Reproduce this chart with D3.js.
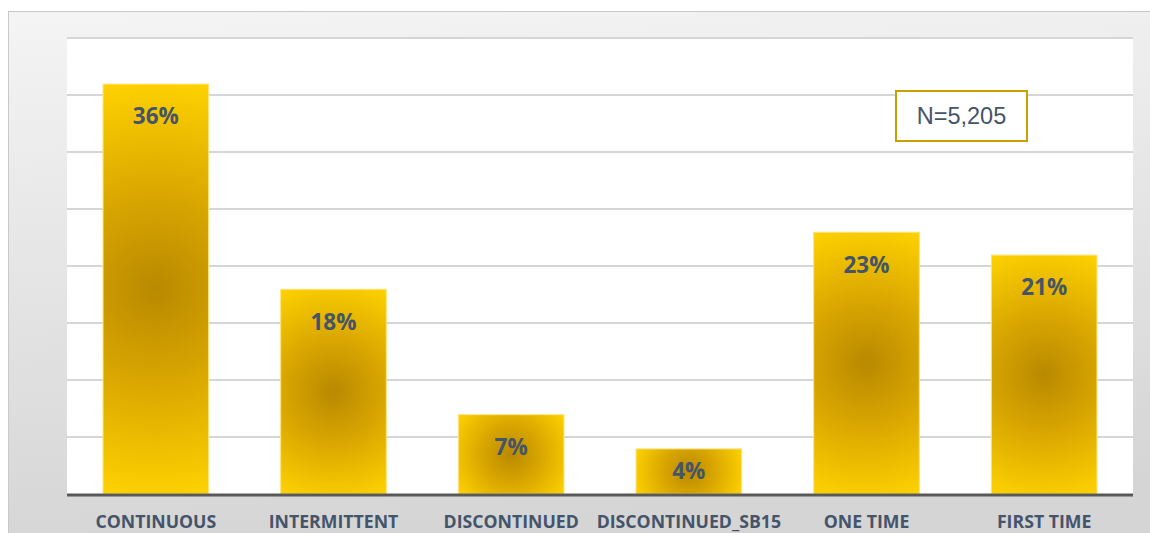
<!DOCTYPE html>
<html>
<head>
<meta charset="utf-8">
<script src="https://cdn.jsdelivr.net/npm/d3@7"></script>
<style>
  html, body { margin: 0; padding: 0; background: #fff; }
  svg { display: block; }
</style>
</head>
<body>
<svg id="chart" width="1150" height="533"></svg>
<script>
// Share of records by participation pattern (percent)
const categories = ["CONTINUOUS", "INTERMITTENT", "DISCONTINUED", "DISCONTINUED_SB15", "ONE TIME", "FIRST TIME"];
const values = [36, 18, 7, 4, 23, 21];
const gridTicks = [5, 10, 15, 20, 25, 30, 35, 40];
const sampleNote = "N=5,205";

const svg = d3.select("#chart");
const W = 1150, H = 533;
const plot = { left: 67, right: 1133, top: 38, bottom: 494 };

const defs = svg.append("defs");

// Frame background
const bg = defs.append("linearGradient").attr("id", "frameBg")
  .attr("x1", 0).attr("y1", 0).attr("x2", 0.15).attr("y2", 1);
bg.append("stop").attr("offset", 0).attr("stop-color", "#f4f4f4");
bg.append("stop").attr("offset", 1).attr("stop-color", "#d5d5d5");

svg.append("rect")
  .attr("x", 8.5).attr("y", 11.5).attr("width", W).attr("height", H)
  .attr("fill", "url(#frameBg)")
  .attr("stroke", "#c9c9c9").attr("stroke-width", 1);

// Plot area
svg.append("rect")
  .attr("x", plot.left).attr("y", plot.top)
  .attr("width", plot.right - plot.left).attr("height", plot.bottom - plot.top)
  .attr("fill", "#ffffff");

const x = d3.scaleBand().domain(categories)
  .range([plot.left, plot.right]).paddingInner(0.4).paddingOuter(0.2);
const y = d3.scaleLinear().domain([0, 40]).range([plot.bottom, plot.top]);

// Horizontal gridlines
svg.append("g").selectAll("line").data(gridTicks).join("line")
  .attr("x1", plot.left).attr("x2", plot.right)
  .attr("y1", d => y(d)).attr("y2", d => y(d))
  .attr("stroke", "#d6d6d6").attr("stroke-width", 2);

// One radial gradient per bar, sized to the bar's half-diagonal
const data = categories.map((c, i) => ({ cat: c, v: values[i], i }));
data.forEach(d => {
  const x0 = x(d.cat), w = x.bandwidth();
  const y0 = y(d.v), h = y(0) - y(d.v);
  const g = defs.append("radialGradient").attr("id", "barGrad" + d.i)
    .attr("gradientUnits", "userSpaceOnUse")
    .attr("cx", x0 + w / 2).attr("cy", y0 + h / 2)
    .attr("r", Math.sqrt((w / 2) ** 2 + (h / 2) ** 2));
  g.append("stop").attr("offset", 0).attr("stop-color", "#b98900");
  g.append("stop").attr("offset", 0.45).attr("stop-color", "#d9a700");
  g.append("stop").attr("offset", 1).attr("stop-color", "#ffd200");
});

// Bars
svg.append("g").selectAll("rect").data(data).join("rect")
  .attr("x", d => x(d.cat) + 0.5)
  .attr("y", d => y(d.v) + 0.5)
  .attr("width", x.bandwidth() - 1)
  .attr("height", d => y(0) - y(d.v) - 0.5)
  .attr("fill", d => `url(#barGrad${d.i})`)
  .attr("stroke", "#ffe27a").attr("stroke-width", 1);

// Value labels inside bars
svg.append("g").selectAll("text").data(data).join("text")
  .attr("x", d => x(d.cat) + x.bandwidth() / 2)
  .attr("y", d => Math.min(y(d.v) + 33, (y(d.v) + y(0)) / 2))
  .attr("dy", "0.35em")
  .attr("text-anchor", "middle")
  .attr("font-family", "'Open Sans', sans-serif")
  .attr("font-weight", 700)
  .attr("font-size", 22.5)
  .attr("fill", "#44546a")
  .text(d => d.v + "%");

// Baseline
svg.append("line")
  .attr("x1", plot.left).attr("x2", plot.right)
  .attr("y1", y(0) + 1).attr("y2", y(0) + 1)
  .attr("stroke", "#595959").attr("stroke-width", 3);

// Category axis
const xAxis = svg.append("g")
  .attr("transform", `translate(0,${plot.bottom})`)
  .call(d3.axisBottom(x).tickSize(0).tickPadding(21));
xAxis.select(".domain").remove();
xAxis.selectAll("text")
  .attr("font-family", "'Open Sans', sans-serif")
  .attr("font-weight", 700)
  .attr("font-size", 17.7)
  .attr("fill", "#44546a");

// Sample size box
const note = svg.append("g");
note.append("rect")
  .attr("x", 896).attr("y", 91).attr("width", 131).attr("height", 50)
  .attr("fill", "#ffffff").attr("stroke", "#c9a000").attr("stroke-width", 2);
note.append("text")
  .attr("x", 961.5).attr("y", 116).attr("dy", "0.35em")
  .attr("text-anchor", "middle")
  .attr("font-family", "'Liberation Sans', Arial, sans-serif")
  .attr("font-size", 23.5)
  .attr("fill", "#44546a")
  .text(sampleNote);
</script>
</body>
</html>
